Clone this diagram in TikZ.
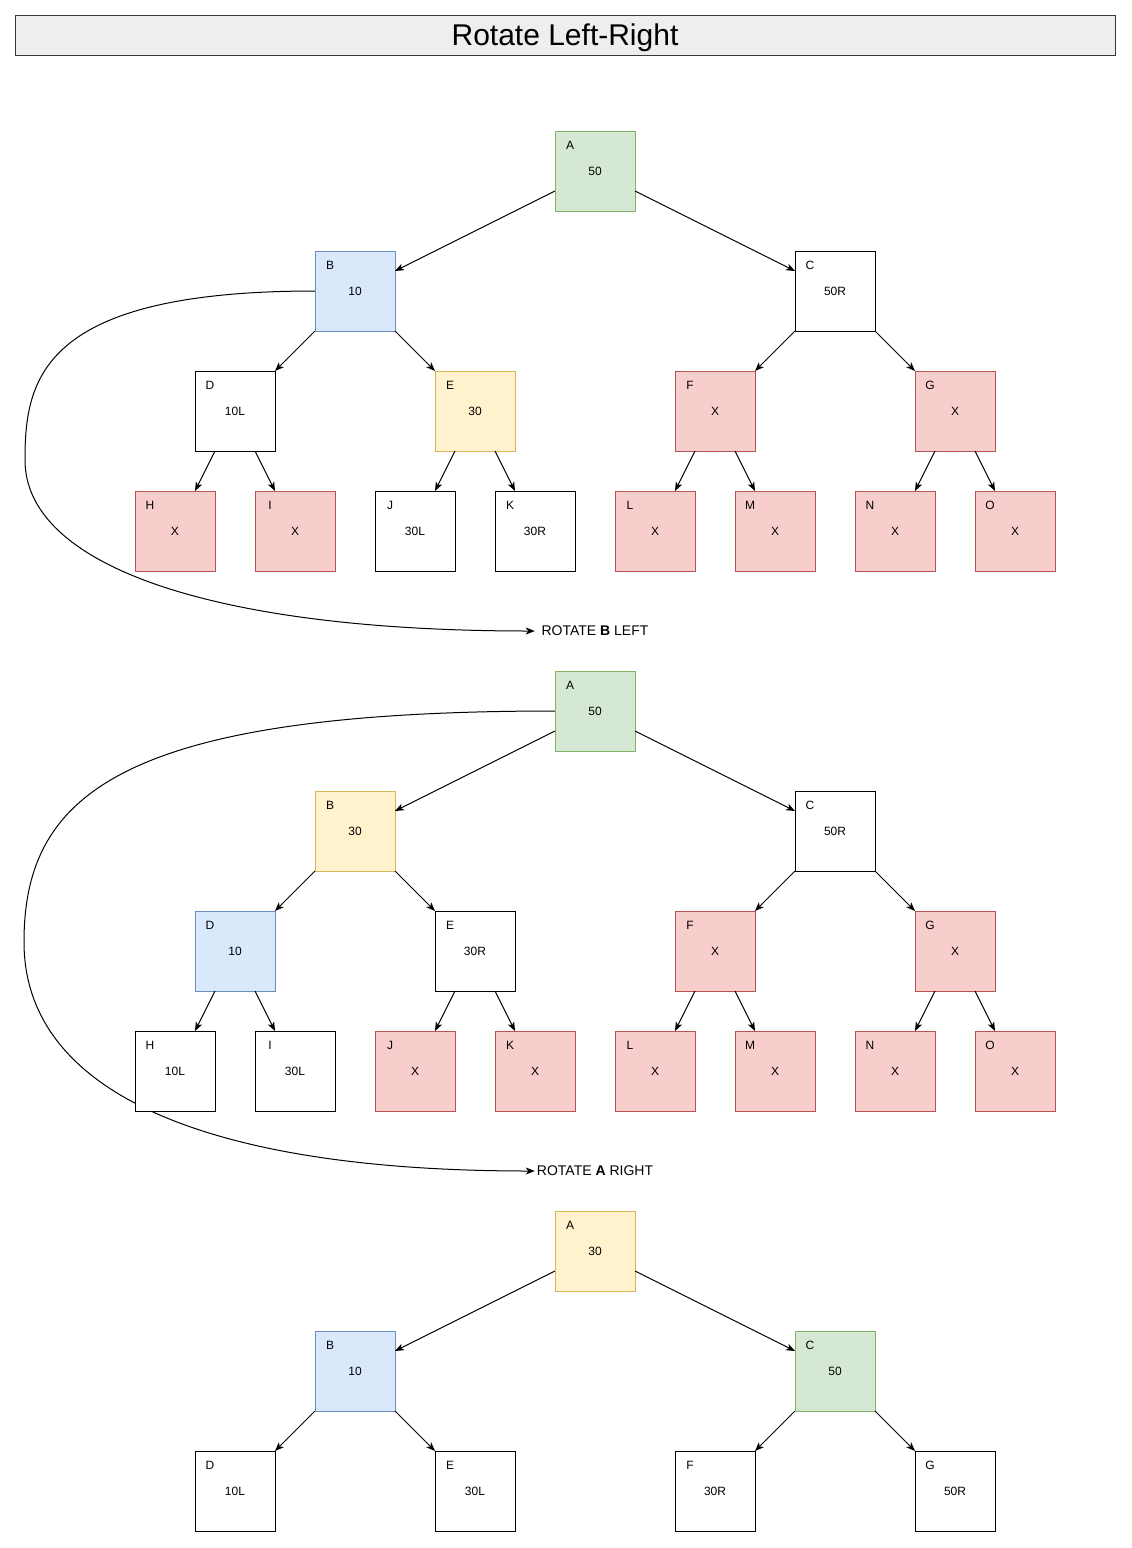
\documentclass[tikz,border=0pt]{standalone}
\usepackage{fontspec}
\setmainfont{Liberation Sans}
\usetikzlibrary{arrows.meta,calc}
\definecolor{gfill}{HTML}{D5E8D4}\definecolor{gdraw}{HTML}{82B366}
\definecolor{bfill}{HTML}{DAE8FC}\definecolor{bdraw}{HTML}{6C8EBF}
\definecolor{yfill}{HTML}{FFF2CC}\definecolor{ydraw}{HTML}{D6B656}
\definecolor{rfill}{HTML}{F8CECC}\definecolor{rdraw}{HTML}{B85450}
\definecolor{tfill}{HTML}{EEEEEE}\definecolor{tdraw}{HTML}{36393D}
\pgfdeclarelayer{bg}
\pgfsetlayers{bg,main}
\newcommand{\tnode}[6]{%
  \node[box,#6] (#1) at (#2,#3) {#5};
  \node[lettr] (#1l) at ($(#1.north west)+(15,14)$) {#4};}
\newcommand{\eroot}[3]{%
  \draw[edge] ($(#1.west)+(0,20)$) -- ($(#2.east)+(0,-20)$);
  \draw[edge] ($(#1.east)+(0,20)$) -- ($(#3.west)+(0,-20)$);}
\newcommand{\emid}[3]{%
  \draw[edge] (#1.south west) -- (#2.north east);
  \draw[edge] (#1.south east) -- (#3.north west);}
\newcommand{\eleaf}[3]{%
  \draw[edge] ($(#1.south)+(-20,0)$) -- ($(#2.north)+(20,0)$);
  \draw[edge] ($(#1.south)+(20,0)$) -- ($(#3.north)+(-20,0)$);}
\begin{document}
\begin{tikzpicture}[x=1pt,y=-1pt,
  box/.style={draw=black,fill=white,line width=1pt,minimum width=80pt,minimum height=80pt,inner sep=0pt,outer sep=0pt,font=\fontsize{12}{14}\selectfont},
  ngreen/.style={fill=gfill,draw=gdraw},
  nblue/.style={fill=bfill,draw=bdraw},
  nyellow/.style={fill=yfill,draw=ydraw},
  nred/.style={fill=rfill,draw=rdraw},
  lettr/.style={inner sep=0pt,font=\fontsize{12}{14}\selectfont},
  edge/.style={line width=1pt,-{Stealth[length=9pt,width=7pt,inset=2.5pt]}},
  rot/.style={inner sep=0pt,minimum width=120pt,font=\fontsize{14}{16}\selectfont},
  titlebox/.style={draw=tdraw,fill=tfill,line width=1pt,minimum width=1100pt,minimum height=40pt,inner sep=0pt,text height=21.5pt,text depth=0pt,font=\fontsize{30}{34}\selectfont}]
\useasboundingbox (0,0) rectangle (1132,1548);
\node[titlebox] (T) at (565,35) {Rotate Left-Right};
% tree 1
\tnode{A1}{595}{171}{A}{50}{ngreen}
\tnode{B1}{355}{291}{B}{10}{nblue}
\tnode{C1}{835}{291}{C}{50R}{}
\tnode{D1}{235}{411}{D}{10L}{}
\tnode{E1}{475}{411}{E}{30}{nyellow}
\tnode{F1}{715}{411}{F}{X}{nred}
\tnode{G1}{955}{411}{G}{X}{nred}
\tnode{H1}{175}{531}{H}{X}{nred}
\tnode{I1}{295}{531}{I}{X}{nred}
\tnode{J1}{415}{531}{J}{30L}{}
\tnode{K1}{535}{531}{K}{30R}{}
\tnode{L1}{655}{531}{L}{X}{nred}
\tnode{M1}{775}{531}{M}{X}{nred}
\tnode{N1}{895}{531}{N}{X}{nred}
\tnode{O1}{1015}{531}{O}{X}{nred}
\eroot{A1}{B1}{C1}
\emid{B1}{D1}{E1}
\emid{C1}{F1}{G1}
\eleaf{D1}{H1}{I1}
\eleaf{E1}{J1}{K1}
\eleaf{F1}{L1}{M1}
\eleaf{G1}{N1}{O1}
\node[rot] (R1) at (595,631) {ROTATE \textbf{B} LEFT};
% tree 2
\tnode{A2}{595}{711}{A}{50}{ngreen}
\tnode{B2}{355}{831}{B}{30}{nyellow}
\tnode{C2}{835}{831}{C}{50R}{}
\tnode{D2}{235}{951}{D}{10}{nblue}
\tnode{E2}{475}{951}{E}{30R}{}
\tnode{F2}{715}{951}{F}{X}{nred}
\tnode{G2}{955}{951}{G}{X}{nred}
\tnode{H2}{175}{1071}{H}{10L}{}
\tnode{I2}{295}{1071}{I}{30L}{}
\tnode{J2}{415}{1071}{J}{X}{nred}
\tnode{K2}{535}{1071}{K}{X}{nred}
\tnode{L2}{655}{1071}{L}{X}{nred}
\tnode{M2}{775}{1071}{M}{X}{nred}
\tnode{N2}{895}{1071}{N}{X}{nred}
\tnode{O2}{1015}{1071}{O}{X}{nred}
\eroot{A2}{B2}{C2}
\emid{B2}{D2}{E2}
\emid{C2}{F2}{G2}
\eleaf{D2}{H2}{I2}
\eleaf{E2}{J2}{K2}
\eleaf{F2}{L2}{M2}
\eleaf{G2}{N2}{O2}
\node[rot] (R2) at (595,1171) {ROTATE \textbf{A} RIGHT};
% tree 3
\tnode{A3}{595}{1251}{A}{30}{nyellow}
\tnode{B3}{355}{1371}{B}{10}{nblue}
\tnode{C3}{835}{1371}{C}{50}{ngreen}
\tnode{D3}{235}{1491}{D}{10L}{}
\tnode{E3}{475}{1491}{E}{30L}{}
\tnode{F3}{715}{1491}{F}{30R}{}
\tnode{G3}{955}{1491}{G}{50R}{}
\eroot{A3}{B3}{C3}
\emid{B3}{D3}{E3}
\emid{C3}{F3}{G3}
% curved connectors
\begin{pgfonlayer}{bg}
\coordinate (k1) at (25,460);
\coordinate (k2) at (24,942);
\draw[edge] (B1.west) .. controls (40,291) and (25,380) .. (k1)
  .. controls (25,565) and (210,631) .. (R1.west);
\draw[edge] (A2.west) .. controls (120,711) and (24,795) .. (k2)
  .. controls (24,1090) and (200,1171) .. (R2.west);
\end{pgfonlayer}
\end{tikzpicture}
\end{document}
